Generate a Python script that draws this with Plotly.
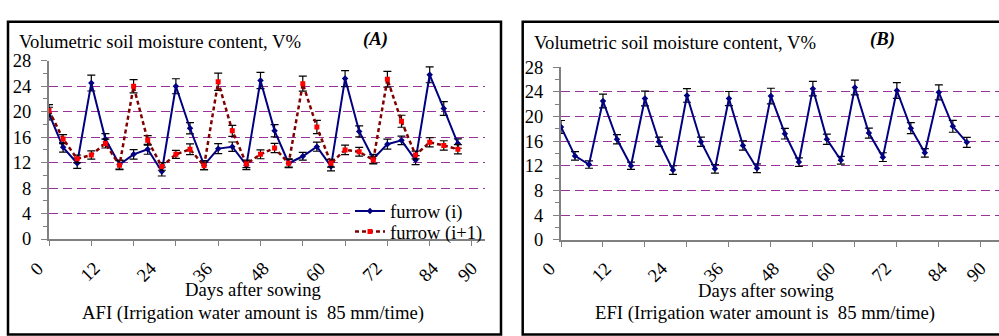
import plotly.graph_objects as go

# ---------------- data ----------------
days = [0, 3, 6, 9, 12, 15, 18, 21, 24, 27, 30, 33, 36, 39, 42, 45, 48, 51, 54, 57,
        60, 63, 66, 69, 72, 75, 78, 81, 84, 87]

afi_furrow_i = [19.7, 14.4, 11.9, 24.5, 15.7, 11.7, 13.3, 14.1, 10.6, 24.0,
                17.4, 11.6, 14.2, 14.5, 11.6, 24.9, 17.0, 11.9, 13.0, 14.5,
                11.4, 25.2, 16.9, 12.6, 14.9, 15.5, 12.4, 25.8, 20.5, 15.0]
afi_furrow_i_err = [1.0, 0.74, 0.8, 1.25, 0.85, 0.7, 0.74, 0.78, 0.7, 1.18,
                    0.89, 0.7, 0.78, 0.74, 0.7, 1.28, 0.96, 0.7, 0.62, 0.71,
                    0.7, 1.25, 0.86, 0.7, 0.79, 0.66, 0.7, 1.25, 1.08, 0.74]

afi_furrow_i1 = [20.2, 15.7, 12.6, 13.2, 15.0, 11.6, 24.0, 15.5, 11.4, 13.3,
                 14.1, 11.5, 24.7, 17.0, 11.8, 13.3, 14.3, 11.9, 24.4, 17.6,
                 11.9, 14.0, 13.7, 12.4, 25.1, 18.5, 13.2, 15.2, 14.7, 14.1]
afi_furrow_i1_err = [0.9, 0.7, 0.6, 0.66, 0.7, 0.7, 1.05, 0.74, 0.6, 0.62,
                     0.84, 0.6, 1.35, 0.86, 0.6, 0.69, 0.74, 0.6, 1.18, 1.03,
                     0.6, 0.74, 0.69, 0.6, 1.23, 0.94, 0.6, 0.71, 0.74, 0.74]

efi_furrow_i = [18.3, 13.6, 12.2, 22.5, 16.3, 12.0, 22.9, 15.9, 11.3, 23.4,
                15.9, 11.5, 22.9, 15.3, 11.6, 23.3, 17.2, 12.6, 24.5, 16.3,
                12.9, 24.7, 17.3, 13.4, 24.2, 18.1, 14.1, 23.9, 18.4, 15.8]
efi_furrow_i_err = [1.04, 0.7, 0.6, 1.1, 0.75, 0.6, 1.19, 0.75, 0.7, 1.1,
                    0.75, 0.7, 1.14, 0.75, 0.7, 1.27, 0.86, 0.69, 1.17, 0.84,
                    0.63, 1.19, 0.81, 0.71, 1.27, 0.89, 0.69, 1.22, 0.97, 0.81]

x_label_days = [0, 12, 24, 36, 48, 60, 72, 84, 92.3]
x_label_text = ["0", "12", "24", "36", "48", "60", "72", "84", "90"]
y_ticks = [0, 4, 8, 12, 16, 20, 24, 28]

series_names = ["furrow (i)", "furrow (i+1)"]
title_y = "Volumetric soil moisture content, V%"
title_x = "Days after sowing"
caption_a = "AFI (Irrigation water amount is \u00a085 mm/time)"
caption_b = "EFI (Irrigation water amount is \u00a085 mm/time)"

# ---------------- layout helpers ----------------
W, H = 999, 336
def px(x):
    return x / W
def py(y):
    return 1 - y / H

FONT = "Liberation Serif"
GRAY = "#808080"
GRID = "#993399"
NAVY = "#000080"
FS = 18.5
FS_T = 18.7

fig = go.Figure()

def err(vals):
    return dict(type="data", array=vals, visible=True, color="black",
                thickness=1.2, width=4)

fig.add_trace(go.Scatter(
    x=days, y=afi_furrow_i, name=series_names[0], mode="lines+markers",
    line=dict(color=NAVY, width=2), marker=dict(symbol="diamond", size=5, color=NAVY),
    error_y=err(afi_furrow_i_err), xaxis="x", yaxis="y", legend="legend"))
fig.add_trace(go.Scatter(
    x=days, y=afi_furrow_i1, name=series_names[1], mode="lines+markers",
    line=dict(color="#800000", width=2.5, dash="4px,3px"),
    marker=dict(symbol="square", size=5, color="#FF0000"),
    error_y=err(afi_furrow_i1_err), xaxis="x", yaxis="y", legend="legend2"))
fig.add_trace(go.Scatter(
    x=days, y=efi_furrow_i, name=series_names[0], mode="lines+markers",
    line=dict(color=NAVY, width=2), marker=dict(symbol="diamond", size=5, color=NAVY),
    error_y=err(efi_furrow_i_err), xaxis="x2", yaxis="y2", showlegend=False))

tickfont = dict(family=FONT, size=FS, color="black")

def xmain(domain, rng, anchor):
    return dict(domain=domain, range=rng, anchor=anchor, tickmode="linear", tick0=0,
                dtick=9, ticks="outside", ticklen=5, tickcolor=GRAY, tickwidth=1,
                showticklabels=False, showline=True, linecolor=GRAY, linewidth=2,
                showgrid=False, zeroline=False)

def ymain(domain, anchor):
    return dict(domain=domain, range=[0, 28], anchor=anchor, tickmode="array",
                tickvals=y_ticks, ticks="outside", ticklen=6, tickcolor=GRAY,
                minor=dict(dtick=2, ticks="outside", ticklen=4, tickcolor=GRAY,
                           showgrid=False),
                showgrid=True, gridcolor=GRID, griddash="9px,5px", gridwidth=1,
                showline=True, linecolor=GRAY, linewidth=2, zeroline=False,
                tickfont=tickfont, ticklabelstandoff=6)

rngA = [0, 92.77]
rngB = [0, 93.9]
plotA_px = (49, 485, 54, 243.5)   # left, right, top, bottom (pixels)

fig.update_layout(
    width=W, height=H, margin=dict(l=0, r=0, t=0, b=0),
    paper_bgcolor="white", plot_bgcolor="white",
    font=dict(family=FONT, size=FS, color="black"),
    xaxis=xmain([px(plotA_px[0]), px(plotA_px[1])], rngA, "y"),
    yaxis=ymain([py(plotA_px[3]), py(plotA_px[2])], "x"),
    xaxis2=xmain([px(561), px(999)], rngB, "y2"),
    yaxis2=ymain([py(244.3), py(60.7)], "x2"),
    legend=dict(x=px(350), y=py(194), xanchor="left", yanchor="top",
                bgcolor="white", borderwidth=0, font=dict(family=FONT, size=FS)),
    legend2=dict(x=px(350), y=py(215.7), xanchor="left", yanchor="top",
                 bgcolor="rgba(0,0,0,0)", borderwidth=0, font=dict(family=FONT, size=FS)),
    showlegend=True,
)

annos = [
    dict(text=title_y, x=px(17), y=py(33), xanchor="left", yanchor="middle"),
    dict(text="<b><i>(A)</i></b>", x=px(375.5), y=py(31), xanchor="center", yanchor="middle"),
    dict(text=title_x, x=px(252.5), y=py(297), xanchor="center", yanchor="middle"),
    dict(text=caption_a, x=px(253), y=py(322), xanchor="center", yanchor="middle"),
    dict(text=title_y, x=px(531.7), y=py(35), xanchor="left", yanchor="middle"),
    dict(text="<b><i>(B)</i></b>", x=px(882.5), y=py(30.7), xanchor="center", yanchor="middle"),
    dict(text=title_x, x=px(766), y=py(298), xanchor="center", yanchor="middle"),
    dict(text=caption_b, x=px(765), y=py(322), xanchor="center", yanchor="middle"),
]
for a in annos:
    a.update(xref="paper", yref="paper", showarrow=False,
             font=dict(family=FONT, size=FS_T, color="black"))

# rotated category labels on the day axes (text end sits just left of the day position)
for xref in ("x", "x2"):
    for d, t in zip(x_label_days, x_label_text):
        w = 9 * len(t)
        annos.append(dict(text=t, x=d, xref=xref, y=py(272 + 0.354 * w), yref="paper",
                          xshift=-(9 + 0.354 * w), textangle=-45, showarrow=False,
                          xanchor="center", yanchor="middle",
                          font=dict(family=FONT, size=FS, color="black")))
fig.update_layout(annotations=annos)

# convert the legend backing box (pixels) into panel-A axis units
def ax_x(p):
    return rngA[1] * (p - plotA_px[0]) / (plotA_px[1] - plotA_px[0])
def ax_y(p):
    return 28 * (plotA_px[3] - p) / (plotA_px[3] - plotA_px[2])

fig.update_layout(shapes=[
    dict(type="rect", xref="x", yref="y",
         x0=ax_x(350), x1=rngA[1], y0=ax_y(241), y1=ax_y(197),
         fillcolor="white", line=dict(width=0), layer="between"),
    dict(type="rect", xref="paper", yref="paper", x0=px(8), x1=px(501),
         y0=py(345), y1=py(12.5), line=dict(color="black", width=2.5)),
    dict(type="rect", xref="paper", yref="paper", x0=px(522.7), x1=px(1010),
         y0=py(345), y1=py(12.5), line=dict(color="black", width=2.5)),
])

fig.write_html("out.html")
